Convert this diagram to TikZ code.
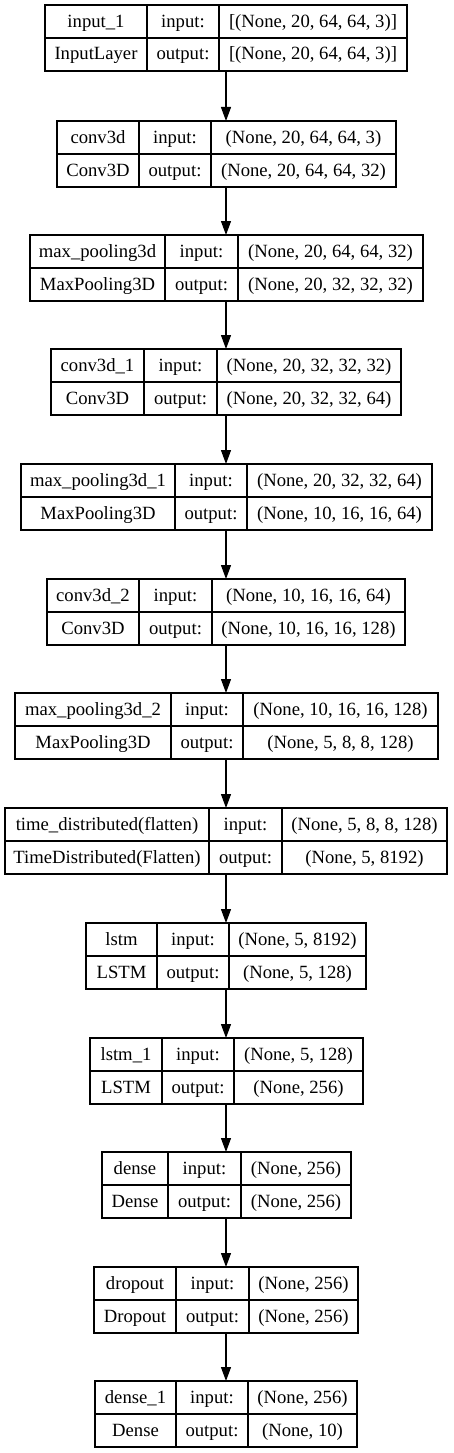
\documentclass[tikz,border=0pt]{standalone}
\usepackage{fontspec}
\setmainfont{Liberation Serif}
\usepackage{tikz}
\usetikzlibrary{arrows.meta,positioning}

\begin{document}
\begin{tikzpicture}[
    x=1pt, y=1pt,
    every node/.style={font=\fontsize{18.67}{22}\selectfont},
    layer/.style={draw, line width=1.2pt, minimum height=66pt, inner sep=0pt, outer sep=0pt},
    cell/.style={anchor=base, inner sep=0pt},
    arr/.style={-{Triangle[length=14pt, width=10pt]}, line width=1.2pt}
]
    \useasboundingbox (0,0) rectangle (453,-1453);

    % one box per layer: name, top, cell borders, name, type, shapes
    \foreach \id/\top/\xa/\xb/\xc/\xd/\nm/\ty/\shin/\shout in {
        in1/5/45/147/219/407/input\_1/InputLayer/{[(None, 20, 64, 64, 3)]}/{[(None, 20, 64, 64, 3)]},
        c1/121/57/139/211/396/conv3d/Conv3D/{(None, 20, 64, 64, 3)}/{(None, 20, 64, 64, 32)},
        mp1/235/30/165/238/423/max\_pooling3d/MaxPooling3D/{(None, 20, 64, 64, 32)}/{(None, 20, 32, 32, 32)},
        c2/349/51/144/217/401/conv3d\_1/Conv3D/{(None, 20, 32, 32, 32)}/{(None, 20, 32, 32, 64)},
        mp2/464/21/175/247/432/max\_pooling3d\_1/MaxPooling3D/{(None, 20, 32, 32, 64)}/{(None, 10, 16, 16, 64)},
        c3/579/47/139/212/405/conv3d\_2/Conv3D/{(None, 10, 16, 16, 64)}/{(None, 10, 16, 16, 128)},
        mp3/693/15/171/243/438/max\_pooling3d\_2/MaxPooling3D/{(None, 10, 16, 16, 128)}/{(None, 5, 8, 8, 128)},
        td/808/5/209/282/447/time\_distributed(flatten)/TimeDistributed(Flatten)/{(None, 5, 8, 8, 128)}/{(None, 5, 8192)},
        ls1/923/86/157/229/366/lstm/LSTM/{(None, 5, 8192)}/{(None, 5, 128)},
        ls2/1038/90/162/234/363/lstm\_1/LSTM/{(None, 5, 128)}/{(None, 256)},
        de1/1152/102/168/241/351/dense/Dense/{(None, 256)}/{(None, 256)},
        dr/1267/94/176/249/358/dropout/Dropout/{(None, 256)}/{(None, 256)},
        de2/1381/95/176/248/357/dense\_1/Dense/{(None, 256)}/{(None, 10)}} {
        \node[layer, minimum width={(\xd-\xa)*1pt}] (\id) at ({(\xa+\xd)/2}, {-\top-33}) {};
        \draw[line width=1.2pt] (\xb,-\top) -- (\xb,{-\top-66})
            (\xc,-\top) -- (\xc,{-\top-66})
            (\xa,{-\top-33}) -- (\xd,{-\top-33});
        \node[cell] (\id-nm) at ({(\xa+\xb)/2}, {-\top-22.5}) {\nm};
        \node[cell] (\id-ty) at ({(\xa+\xb)/2}, {-\top-55}) {\ty};
        \node[cell] (\id-il) at ({(\xb+\xc)/2}, {-\top-22.5}) {input:};
        \node[cell] (\id-ol) at ({(\xb+\xc)/2}, {-\top-55}) {output:};
        \node[cell] (\id-in) at ({(\xc+\xd)/2}, {-\top-22.5}) {\shin};
        \node[cell] (\id-out) at ({(\xc+\xd)/2}, {-\top-55}) {\shout};
    }

    % all arrows on the axis of the first box
    \foreach \a/\b in {in1/c1, c1/mp1, mp1/c2, c2/mp2, mp2/c3, c3/mp3, mp3/td,
        td/ls1, ls1/ls2, ls2/de1, de1/dr, dr/de2}
        \draw[arr] (\a.south -| in1.center) -- (\b.north -| in1.center);
\end{tikzpicture}
\end{document}
